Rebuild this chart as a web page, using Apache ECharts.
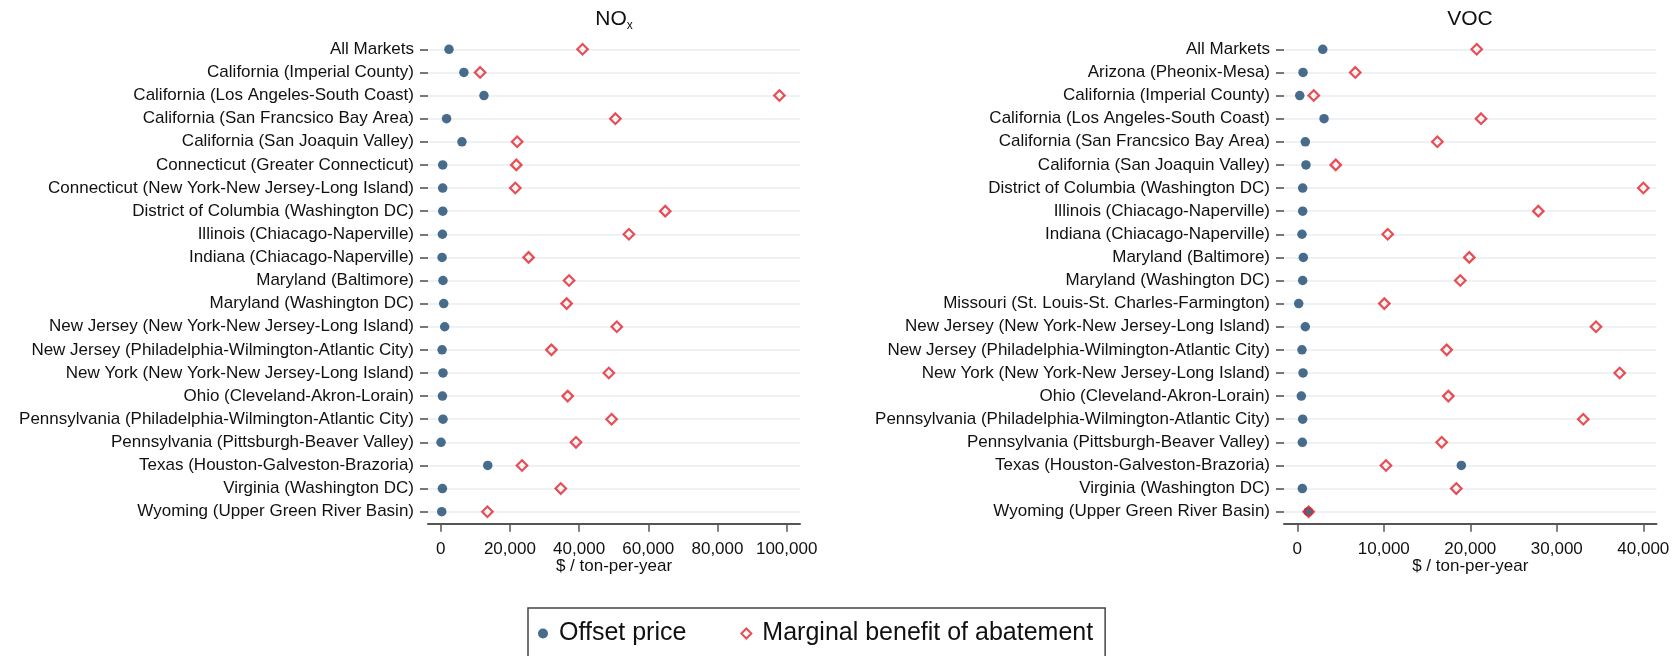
<!DOCTYPE html>
<html>
<head>
<meta charset="utf-8">
<script src="https://cdn.jsdelivr.net/npm/echarts@6/dist/echarts.min.js"></script>
<style>
  html, body { margin: 0; padding: 0; background: #fff; }
  #chart { width: 1680px; height: 656px; }
</style>
</head>
<body>
<div id="chart"></div>
<script>
// NOx markets
var noxMarkets = [
  'All Markets',
  'California (Imperial County)',
  'California (Los Angeles-South Coast)',
  'California (San Francsico Bay Area)',
  'California (San Joaquin Valley)',
  'Connecticut (Greater Connecticut)',
  'Connecticut (New York-New Jersey-Long Island)',
  'District of Columbia (Washington DC)',
  'Illinois (Chiacago-Naperville)',
  'Indiana (Chiacago-Naperville)',
  'Maryland (Baltimore)',
  'Maryland (Washington DC)',
  'New Jersey (New York-New Jersey-Long Island)',
  'New Jersey (Philadelphia-Wilmington-Atlantic City)',
  'New York (New York-New Jersey-Long Island)',
  'Ohio (Cleveland-Akron-Lorain)',
  'Pennsylvania (Philadelphia-Wilmington-Atlantic City)',
  'Pennsylvania (Pittsburgh-Beaver Valley)',
  'Texas (Houston-Galveston-Brazoria)',
  'Virginia (Washington DC)',
  'Wyoming (Upper Green River Basin)'
];
var noxPrice = [2400, 6700, 12500, 1700, 6150, 580, 580, 600, 500, 400, 660, 870, 1150, 400, 660, 500, 660, 100, 13600, 500, 300];
var noxBenefit = [41000, 11400, 97900, 50500, 22100, 21850, 21560, 64900, 54400, 25400, 37100, 36400, 50900, 32000, 48600, 36700, 49400, 39100, 23500, 34700, 13500];

// VOC markets
var vocMarkets = [
  'All Markets',
  'Arizona (Pheonix-Mesa)',
  'California (Imperial County)',
  'California (Los Angeles-South Coast)',
  'California (San Francsico Bay Area)',
  'California (San Joaquin Valley)',
  'District of Columbia (Washington DC)',
  'Illinois (Chiacago-Naperville)',
  'Indiana (Chiacago-Naperville)',
  'Maryland (Baltimore)',
  'Maryland (Washington DC)',
  'Missouri (St. Louis-St. Charles-Farmington)',
  'New Jersey (New York-New Jersey-Long Island)',
  'New Jersey (Philadelphia-Wilmington-Atlantic City)',
  'New York (New York-New Jersey-Long Island)',
  'Ohio (Cleveland-Akron-Lorain)',
  'Pennsylvania (Philadelphia-Wilmington-Atlantic City)',
  'Pennsylvania (Pittsburgh-Beaver Valley)',
  'Texas (Houston-Galveston-Brazoria)',
  'Virginia (Washington DC)',
  'Wyoming (Upper Green River Basin)'
];
var vocPrice = [2940, 660, 280, 3090, 925, 1000, 620, 620, 540, 690, 620, 160, 925, 540, 660, 460, 620, 580, 18960, 580, 1270];
var vocBenefit = [20740, 6700, 1900, 21240, 16190, 4440, 40000, 27860, 10450, 19880, 18840, 10060, 34530, 17270, 37270, 17460, 33060, 16690, 10250, 18380, 1310];

var noxTicks = [0, 20000, 40000, 60000, 80000, 100000];
var vocTicks = [0, 10000, 20000, 30000, 40000];

var FONT = 'Liberation Sans, Arial, Helvetica, sans-serif';
var NAVY = '#1a476f';
var RED = '#e3222b';
var AXIS = '#555555';
var GRIDC = '#e8eef0';
var TXT = '#111111';

function pairs(vals) {
  return vals.map(function (v, i) { return [v, i]; });
}

function fmt(v) {
  return String(v).replace(/\B(?=(\d{3})+(?!\d))/g, ',');
}

function makeX(idx, min, max, ticks) {
  return {
    type: 'value',
    gridIndex: idx,
    min: min,
    max: max,
    offset: 12,
    axisLine: { show: true, onZero: false, lineStyle: { color: AXIS, width: 2 } },
    axisTick: { show: true, length: 8, customValues: ticks, lineStyle: { color: AXIS, width: 1.5 } },
    axisLabel: {
      customValues: ticks, margin: 17.5, fontSize: 17, color: TXT, fontFamily: FONT,
      formatter: function (v) { return fmt(v); }
    },
    splitLine: { show: false },
    name: '$ / ton-per-year',
    nameLocation: 'middle',
    nameGap: 34.5,
    nameMoveOverlap: false,
    nameTextStyle: { fontSize: 17, color: TXT, fontFamily: FONT }
  };
}

function makeY(idx, cats) {
  return {
    type: 'category',
    gridIndex: idx,
    data: cats,
    inverse: true,
    boundaryGap: false,
    axisLine: { show: false, onZero: false },
    axisTick: { show: true, length: 8, alignWithLabel: true, lineStyle: { color: AXIS, width: 1.6 } },
    axisLabel: { margin: 14, fontSize: 17, color: TXT, fontFamily: FONT, interval: 0 },
    splitLine: { show: true, interval: 0, lineStyle: { color: GRIDC, width: 1.5 } }
  };
}

var chart = echarts.init(document.getElementById('chart'), null, { renderer: 'canvas' });

var priceStyle = { color: NAVY };
var benefitStyle = { color: 'rgba(255,255,255,0)', borderColor: RED, borderWidth: 2.2 };

var option = {
  backgroundColor: '#fff',
  animation: false,
  title: [
    {
      text: '{m|NO}{s|x}',
      left: 614, top: 6, textAlign: 'center', padding: 0,
      textStyle: {
        fontFamily: FONT, fontWeight: 'normal',
        rich: {
          m: { fontSize: 21, fontWeight: 'normal', color: TXT, fontFamily: FONT, lineHeight: 26 },
          s: { fontSize: 12, fontWeight: 'normal', color: TXT, fontFamily: FONT, verticalAlign: 'bottom', lineHeight: 20 }
        }
      }
    },
    {
      text: 'VOC',
      left: 1470, top: 9, textAlign: 'center', padding: 0,
      textStyle: { fontSize: 21, fontWeight: 'normal', color: TXT, fontFamily: FONT }
    }
  ],
  legend: {
    left: 528, top: 608,
    orient: 'horizontal',
    padding: [13, 12, 30, 10],
    itemWidth: 10, itemHeight: 10,
    itemGap: 54,
    borderColor: '#444', borderWidth: 1.5,
    formatter: function (name) { return '{t|' + name + '}'; },
    textStyle: {
      fontSize: 25, color: TXT, fontFamily: FONT,
      rich: { t: { fontSize: 25, color: TXT, fontFamily: FONT, padding: [0, 0, 0, 6] } }
    },
    data: [
      { name: 'Offset price', icon: 'circle' },
      { name: 'Marginal benefit of abatement', icon: 'diamond' }
    ]
  },
  grid: [
    { left: 428, right: 880, top: 49.3, height: 462.4 },
    { left: 1284, right: 23.5, top: 49.3, height: 462.4 }
  ],
  xAxis: [
    makeX(0, -3670, 103850, noxTicks),
    makeX(1, -1540, 41524, vocTicks)
  ],
  yAxis: [
    makeY(0, noxMarkets),
    makeY(1, vocMarkets)
  ],
  series: [
    {
      name: 'Offset price', type: 'scatter', xAxisIndex: 0, yAxisIndex: 0,
      symbol: 'circle', symbolSize: 9.5, itemStyle: priceStyle, data: pairs(noxPrice)
    },
    {
      name: 'Marginal benefit of abatement', type: 'scatter', xAxisIndex: 0, yAxisIndex: 0,
      symbol: 'diamond', symbolSize: 10.5, itemStyle: benefitStyle, data: pairs(noxBenefit)
    },
    {
      name: 'Offset price', type: 'scatter', xAxisIndex: 1, yAxisIndex: 1,
      symbol: 'circle', symbolSize: 9.5, itemStyle: priceStyle, data: pairs(vocPrice)
    },
    {
      name: 'Marginal benefit of abatement', type: 'scatter', xAxisIndex: 1, yAxisIndex: 1,
      symbol: 'diamond', symbolSize: 10.5, itemStyle: benefitStyle, data: pairs(vocBenefit)
    }
  ]
};

chart.setOption(option);
</script>
</body>
</html>
